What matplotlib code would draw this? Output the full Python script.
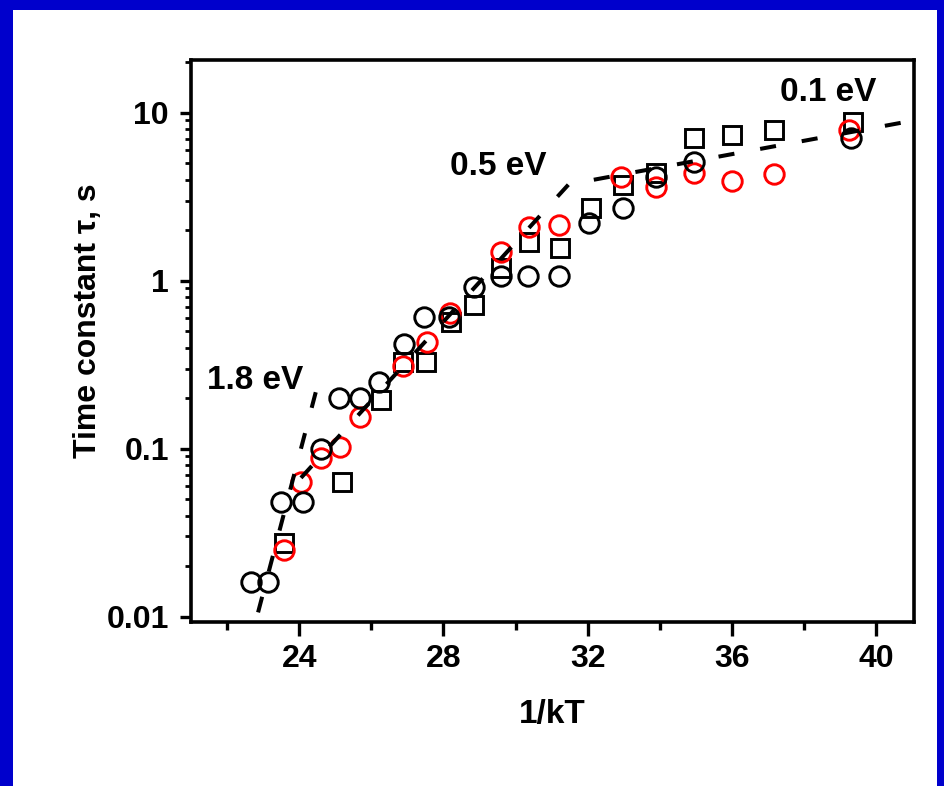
import matplotlib
matplotlib.use("Agg")
import matplotlib.pyplot as plt
from matplotlib.patches import Rectangle
from matplotlib.ticker import FixedLocator, NullFormatter, LogLocator

plt.rcParams['font.family'] = ['Liberation Sans', 'DejaVu Sans']
plt.rcParams['font.weight'] = 'bold'

# ---- data ----
x_black_circ = [22.67, 23.14, 23.5, 24.1, 24.6, 25.1, 25.7, 26.2, 26.9, 27.46, 28.15,
                28.85, 29.6, 30.34, 31.2, 32.03, 32.97, 33.9, 34.94, 39.3]
y_black_circ = [0.016, 0.016, 0.048, 0.048, 0.10, 0.20, 0.20, 0.25, 0.42, 0.61, 0.61,
                0.92, 1.06, 1.06, 1.06, 2.2, 2.72, 4.16, 5.1, 7.1]

x_red_circ = [23.58, 24.05, 24.6, 25.14, 25.7, 26.88, 27.55, 28.18, 29.6, 30.37, 31.2,
              32.92, 33.9, 34.94, 36.0, 37.16, 39.24]
y_red_circ = [0.025, 0.063, 0.088, 0.103, 0.155, 0.31, 0.43, 0.645, 1.49, 2.1, 2.15,
              4.16, 3.63, 4.4, 3.9, 4.3, 7.9]

x_square = [23.58, 25.2, 26.27, 26.88, 27.52, 28.2, 28.85, 29.6, 30.37, 31.23, 32.09,
            32.97, 33.9, 34.94, 36.0, 37.16, 39.35]
y_square = [0.0275, 0.063, 0.196, 0.33, 0.33, 0.57, 0.72, 1.19, 1.71, 1.57, 2.72,
            3.72, 4.4, 7.1, 7.4, 7.9, 8.8]

# activation-energy fit lines (end points)
fit_x_18 = [22.86, 24.5]
fit_y_18 = [0.0106, 0.234]
fit_x_05 = [24.05, 31.59]
fit_y_05 = [0.067, 3.99]
fit_x_01 = [32.17, 40.68]
fit_y_01 = [3.99, 8.7]

fit_labels = ["1.8 eV", "0.5 eV", "0.1 eV"]
label_x = [22.77, 29.52, 38.68]
label_y = [0.254, 4.77, 13.2]

x_ticks = [24, 28, 32, 36, 40]
x_minor = [22, 26, 30, 34, 38]
y_ticks = [0.01, 0.1, 1, 10]
y_ticklabels = ["0.01", "0.1", "1", "10"]

# ---- figure ----
W, H = 945, 786
fig = plt.figure(figsize=(W / 100, H / 100), dpi=100)
fig.patch.set_facecolor('#0000CC')
fig.patches.append(Rectangle((13 / W, 0), (W - 13 - 8) / W, (H - 10) / H,
                             transform=fig.transFigure, facecolor='white',
                             edgecolor='none', zorder=-10))

ax = fig.add_axes([191 / W, 1 - 622 / H, (914 - 191) / W, (622 - 60) / H])
ax.set_zorder(1)
ax.set_facecolor('white')
ax.set_yscale('log')
ax.set_xlim(21.0, 41.05)
ax.set_ylim(0.00929, 20.6)

ms = 14
mew = 2.1
ax.plot(x_square, y_square, ls='none', marker='s', ms=12.5, mfc='none', mec='black',
        mew=mew, zorder=3)
ax.plot(x_red_circ, y_red_circ, ls='none', marker='o', ms=ms, mfc='none', mec='#FF0000',
        mew=mew, zorder=3)
ax.plot(x_black_circ, y_black_circ, ls='none', marker='o', ms=ms, mfc='none', mec='black',
        mew=mew, zorder=4)

for fx, fy in [(fit_x_18, fit_y_18), (fit_x_05, fit_y_05), (fit_x_01, fit_y_01)]:
    ax.plot(fx, fy, color='black', lw=2.9, dashes=(4, 6.5), solid_capstyle='butt',
            dash_capstyle='butt', zorder=5)

for t, lx, ly in zip(fit_labels, label_x, label_y):
    ax.text(lx, ly, t, ha='center', va='center', fontsize=24, fontweight='bold', zorder=6)

# axes styling
for s in ax.spines.values():
    s.set_linewidth(2.6)
ax.xaxis.set_major_locator(FixedLocator(x_ticks))
ax.xaxis.set_minor_locator(FixedLocator(x_minor))
ax.set_xticklabels([str(v) for v in x_ticks])
ax.yaxis.set_major_locator(FixedLocator(y_ticks))
ax.set_yticklabels(y_ticklabels)
ax.yaxis.set_minor_locator(LogLocator(base=10, subs=range(2, 10), numticks=20))
ax.yaxis.set_minor_formatter(NullFormatter())

ax.tick_params(axis='x', which='major', direction='out', length=10, width=2.4,
               labelsize=23, pad=6, top=False)
ax.tick_params(axis='x', which='minor', direction='out', length=6, width=2.4, top=False)
ax.tick_params(axis='y', which='major', direction='out', length=8, width=2.4,
               labelsize=23, pad=8, right=False)
ax.tick_params(axis='y', which='minor', direction='out', length=4.5, width=2.0, right=False)
for lab in ax.get_xticklabels() + ax.get_yticklabels():
    lab.set_fontweight('bold')

ax.set_xlabel("1/kT", fontsize=24, fontweight='bold')
ax.xaxis.set_label_coords(0.499, -0.137)
ax.set_ylabel("Time constant τ, s", fontsize=23, fontweight='bold')
ax.yaxis.set_label_coords(-0.122, 0.537)

fig.savefig("out.png", dpi=100, facecolor=fig.get_facecolor())
